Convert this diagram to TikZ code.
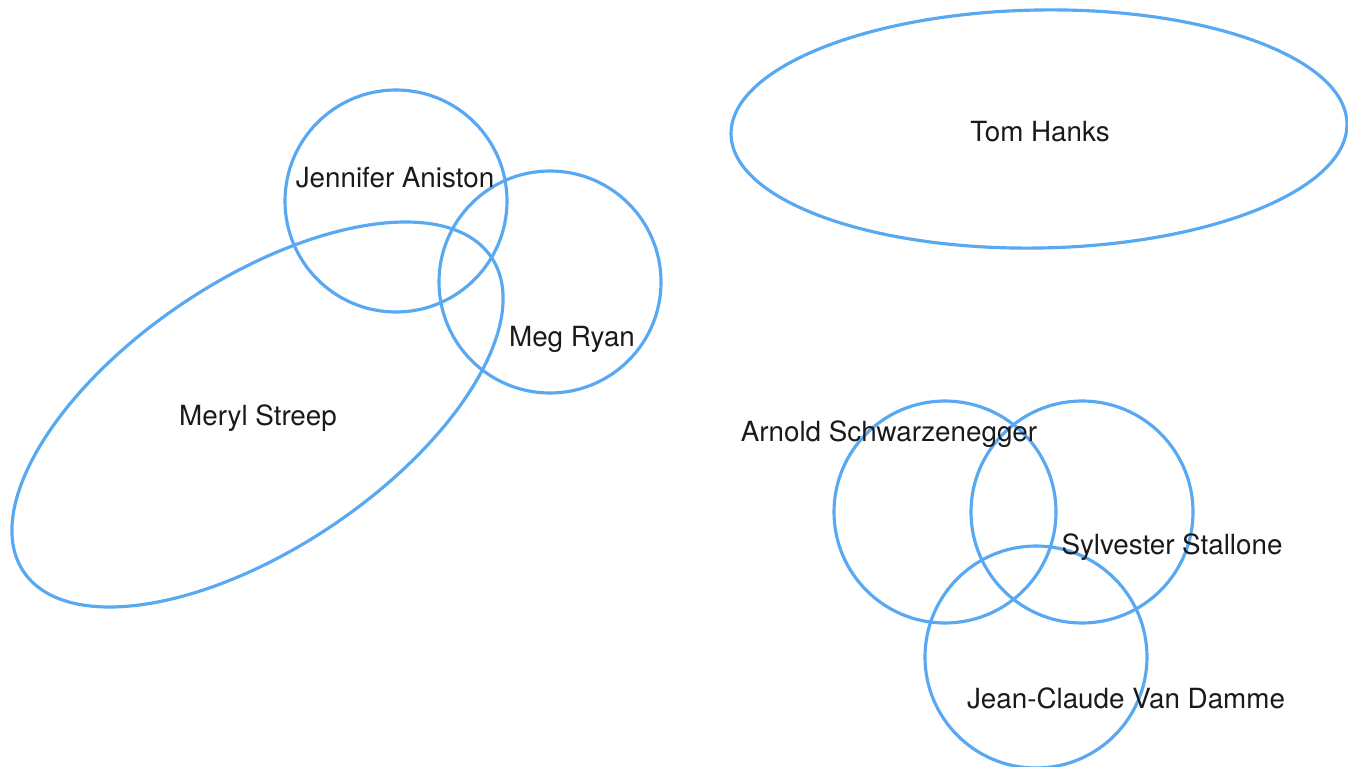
\documentclass[tikz,border=0pt]{standalone}
\usepackage{fontspec}
\setmainfont{TeX Gyre Heros}
\usepackage{tikz}
\usetikzlibrary{positioning}
\definecolor{vblue}{RGB}{88,168,242}
\definecolor{vtext}{HTML}{1A1A1A}
\tikzset{
  setline/.style={draw=vblue, line width=0.9pt},
  setlabel/.style={text=vtext, inner sep=0pt, font=\fontsize{7.9}{9}\selectfont},
}

\begin{document}
\begin{tikzpicture}[x=0.01cm, y=-0.01cm]
  \useasboundingbox (0,0) rectangle (1348,767);

  %% Left group
  \draw[setline, rotate around={33.9:(257.5,414.5)}] (257.5,414.5) ellipse (281.8 and 133.9);
  \draw[setline] (396,201) circle (111);
  \draw[setline] (550,282) circle (111);
  \node[setlabel] (streep)  at (258,418) {Meryl Streep};
  \node[setlabel] (aniston) at (395,178) {Jennifer Aniston};
  \node[setlabel] (ryan)    at (572,339) {Meg Ryan};

  %% Top right
  \draw[setline, rotate around={1:(1039,129)}] (1039,129) ellipse (308 and 119);
  \node[setlabel] (hanks) at (1040,132) {Tom Hanks};

  %% Bottom right group
  \draw[setline] (945,512) circle (111);
  \draw[setline] (1082,512) circle (111);
  \draw[setline] (1036,657) circle (111);
  \node[setlabel] (arnold)  at (889,434)  {Arnold Schwarzenegger};
  \node[setlabel] (sly)     at (1172,547) {Sylvester Stallone};
  \node[setlabel] (jcvd)    at (1126,698) {Jean-Claude Van Damme};
\end{tikzpicture}
\end{document}
